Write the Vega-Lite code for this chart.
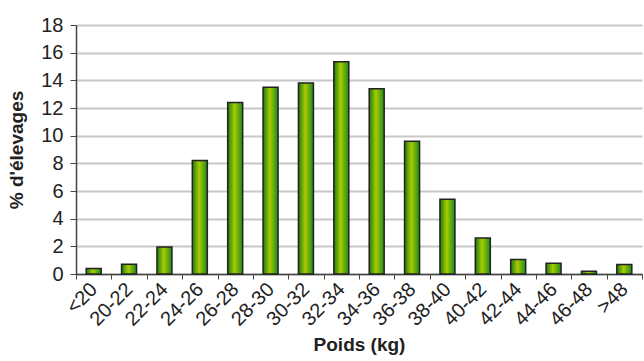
{
  "$schema": "https://vega.github.io/schema/vega-lite/v6.json",
  "width": 566,
  "height": 249,
  "autosize": {"type": "none"},
  "padding": {"left": 76, "top": 25, "right": 2, "bottom": 87},
  "background": "white",
  "config": {
    "view": {"stroke": null},
    "font": "Liberation Sans"
  },
  "data": {
    "values": [
      {"poids": "<20", "pct": 0.4},
      {"poids": "20-22", "pct": 0.7},
      {"poids": "22-24", "pct": 1.95},
      {"poids": "24-26", "pct": 8.2},
      {"poids": "26-28", "pct": 12.4},
      {"poids": "28-30", "pct": 13.5},
      {"poids": "30-32", "pct": 13.8},
      {"poids": "32-34", "pct": 15.35},
      {"poids": "34-36", "pct": 13.4},
      {"poids": "36-38", "pct": 9.6},
      {"poids": "38-40", "pct": 5.4},
      {"poids": "40-42", "pct": 2.6},
      {"poids": "42-44", "pct": 1.05},
      {"poids": "44-46", "pct": 0.78},
      {"poids": "46-48", "pct": 0.2},
      {"poids": ">48", "pct": 0.68}
    ]
  },
  "mark": {
    "type": "bar",
    "size": 15,
    "stroke": "#222222",
    "strokeWidth": 1.5,
    "fill": {
      "gradient": "linear",
      "x1": 0, "y1": 0, "x2": 1, "y2": 0,
      "stops": [
        {"offset": 0, "color": "#1c7a12"},
        {"offset": 0.45, "color": "#a8cc00"},
        {"offset": 1, "color": "#1c8a1c"}
      ]
    }
  },
  "encoding": {
    "x": {
      "field": "poids",
      "type": "nominal",
      "sort": null,
      "scale": {"paddingInner": 0, "paddingOuter": 0},
      "axis": {
        "title": "Poids (kg)",
        "titleFont": "Liberation Sans",
        "titleFontSize": 19,
        "titleFontWeight": "bold",
        "titleColor": "#222222",
        "titlePadding": 6,
        "labelAngle": -45,
        "labelAlign": "right",
        "labelBaseline": "middle",
        "labelFontSize": 20,
        "labelColor": "#222222",
        "labelPadding": 7,
        "tickBand": "extent",
        "ticks": true,
        "tickSize": 5,
        "tickColor": "#444444",
        "domainColor": "#444444",
        "domainWidth": 1.5,
        "grid": false
      }
    },
    "y": {
      "field": "pct",
      "type": "quantitative",
      "scale": {"domain": [0, 18], "nice": false},
      "axis": {
        "title": "% d'élevages",
        "titleFont": "Liberation Sans",
        "titleFontSize": 19,
        "titleFontWeight": "bold",
        "titleColor": "#222222",
        "titlePadding": 14,
        "values": [0, 2, 4, 6, 8, 10, 12, 14, 16, 18],
        "labelFontSize": 20,
        "labelColor": "#222222",
        "labelPadding": 7,
        "tickSize": 6,
        "tickColor": "#444444",
        "domainColor": "#444444",
        "domainWidth": 1.5,
        "grid": true,
        "gridColor": "#c8c8c8",
        "gridWidth": 2
      }
    }
  }
}
